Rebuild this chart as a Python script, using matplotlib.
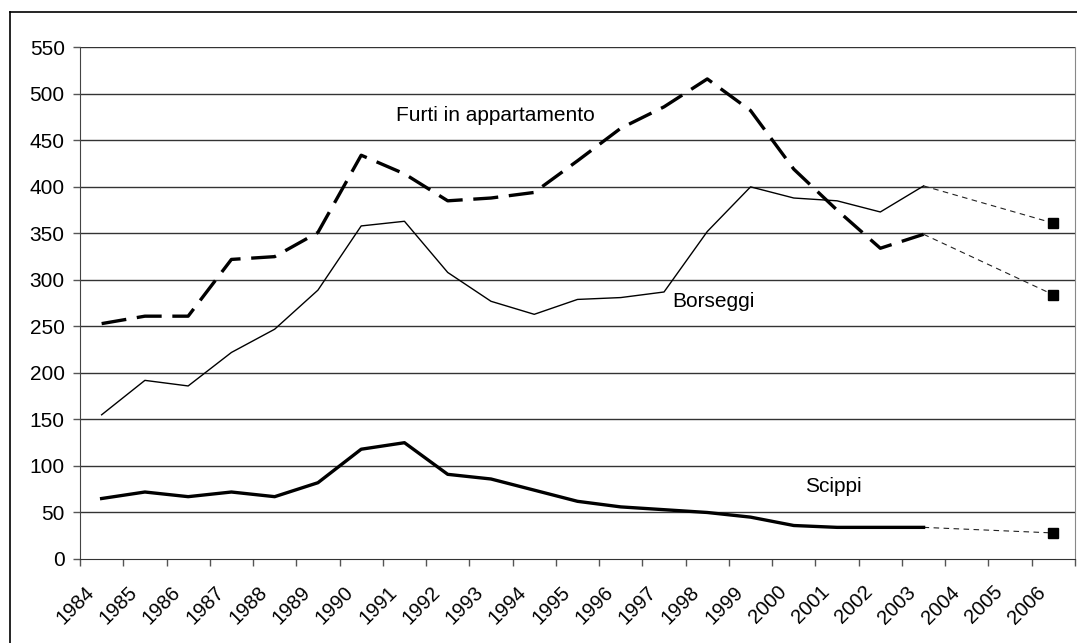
import matplotlib
matplotlib.use("Agg")
import matplotlib.pyplot as plt
from matplotlib.lines import Line2D
from matplotlib.transforms import ScaledTranslation, blended_transform_factory

plt.rcParams['font.family'] = ['Liberation Sans', 'DejaVu Sans']

years = [str(y) for y in range(1984, 2007)]
# observed series 1984-2003
furti = [253, 261, 261, 322, 325, 351, 434, 414, 385, 388, 394, 428, 463, 486,
         516, 482, 419, 375, 334, 349]
borseggi = [155, 192, 186, 222, 247, 289, 358, 363, 308, 277, 263, 279, 281, 287,
            352, 400, 388, 385, 373, 401]
scippi = [65, 72, 67, 72, 67, 82, 118, 125, 91, 86, 74, 62, 56, 53, 50, 45,
          36, 34, 34, 34]
# 2006 estimates (projection from 2003)
furti_2006 = 284
borseggi_2006 = 361
scippi_2006 = 28

n = len(years)
xc = [i + 0.5 for i in range(n)]
xobs = xc[:len(furti)]
xproj = [xc[len(furti) - 1], xc[n - 1]]

fig = plt.figure(figsize=(10.77, 6.43), dpi=100)
ax = fig.add_axes([80 / 1077, 1 - 559 / 643, 995 / 1077, (559 - 47.3) / 643])

for v in range(50, 551, 50):
    ax.axhline(v, color='#333333', lw=1.0, zorder=1)

ax.plot(xobs, scippi, color='black', lw=2.4, solid_joinstyle='round', zorder=3)
ax.plot(xobs, borseggi, color='black', lw=1.0, zorder=3)
ax.plot(xobs, furti, color='black', lw=2.4, dashes=(7.5, 3.2), zorder=3)

proj_style = dict(color='#222222', lw=0.8, linestyle=(0, (5, 4)), zorder=2)
for last, est in [(furti[-1], furti_2006), (borseggi[-1], borseggi_2006),
                  (scippi[-1], scippi_2006)]:
    ax.plot(xproj, [last, est], **proj_style)
    ax.plot([xproj[1]], [est], marker='s', ms=7, color='black', ls='none', zorder=4)

ax.set_xlim(0, n)
ax.set_ylim(0, 550)
ax.set_yticks(range(0, 551, 50))
ax.tick_params(axis='y', length=5, width=1, color='#555555', pad=6, labelsize=15)

ax.set_xticks(range(0, n + 1))
ax.set_xticklabels([])
ax.tick_params(axis='x', which='major', length=5, width=1, color='#555555')

# rotated year labels, anchored at the end of the baseline
trans = blended_transform_factory(ax.transData, ax.transAxes)
off = ScaledTranslation(-4.8 / 72, -24.5 / 72, fig.dpi_scale_trans)
for x, lab in zip(xc, years):
    ax.text(x, 0, lab, transform=trans + off, rotation=45, rotation_mode='anchor',
            ha='right', va='baseline', fontsize=14.5, clip_on=False)

ax.spines['top'].set_visible(False)
ax.spines['right'].set_color('#888888')
ax.spines['left'].set_color('#444444')
ax.spines['bottom'].set_color('#333333')

ax.text(7.30, 477, 'Furti in appartamento', fontsize=15, ha='left', va='center')
ax.text(13.70, 277, 'Borseggi', fontsize=15, ha='left', va='center')
ax.text(16.76, 78, 'Scippi', fontsize=15, ha='left', va='center')

# outer frame
fx, fy = 10 / 1077, 1 - 12 / 643
fig.add_artist(Line2D([fx, fx], [0, fy], transform=fig.transFigure, color='black', lw=1.2))
fig.add_artist(Line2D([fx, 1], [fy, fy], transform=fig.transFigure, color='black', lw=1.2))

fig.savefig('out.png', dpi=100)
